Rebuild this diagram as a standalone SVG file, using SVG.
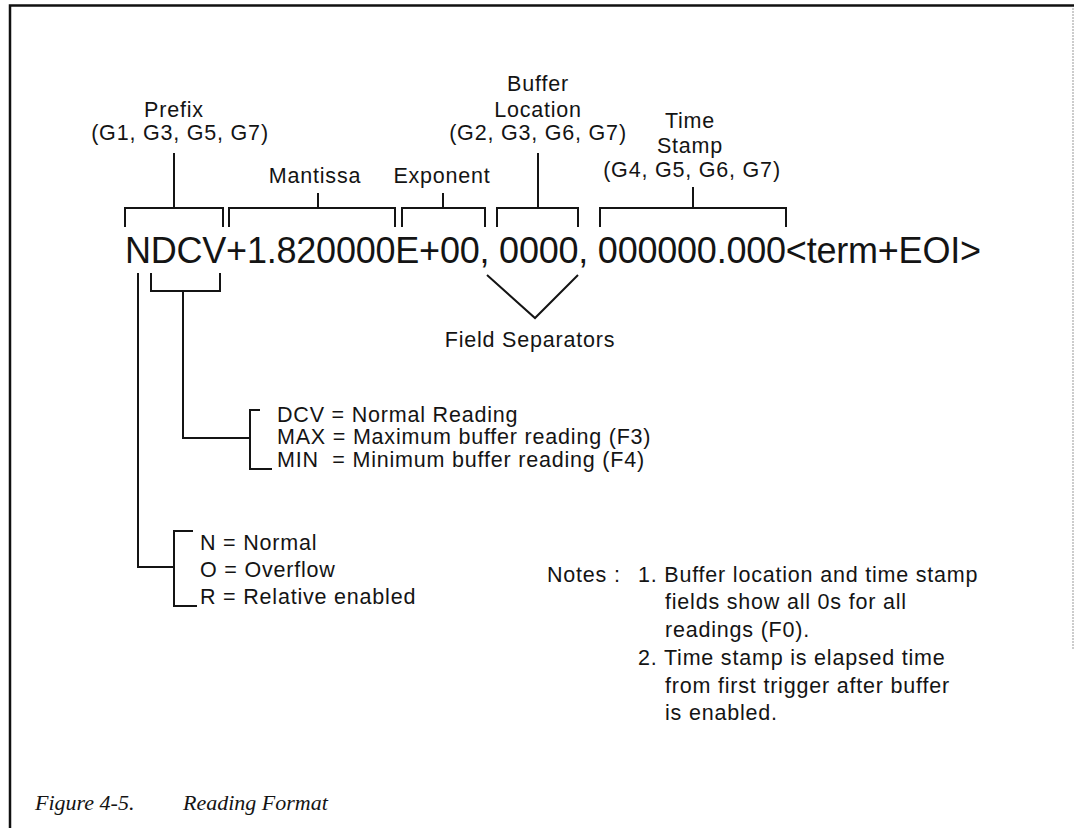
<svg xmlns="http://www.w3.org/2000/svg" width="1074" height="828" viewBox="0 0 1074 828">
<style>
.lbl{font-family:"Liberation Sans",Arial,Helvetica,sans-serif;font-size:21.5px;letter-spacing:0.8px;fill:#141414}
.mid{text-anchor:middle}
.main{font-family:"Liberation Sans",Arial,Helvetica,sans-serif;font-size:36px;fill:#141414}
.cap{font-family:"Liberation Serif","Times New Roman",serif;font-style:italic;font-size:22px;fill:#141414}
.ln{fill:none;stroke:#141414;stroke-width:2}
.frame{fill:none;stroke:#111;stroke-width:2.5}
</style>
<rect width="1074" height="828" fill="#fff"/>
<g id="frame">
<path class="frame" d="M10,828 V5.5 H1074"/>
<path d="M1073,8 V650" fill="none" stroke="#999" stroke-width="1" stroke-dasharray="2,1"/>
</g>
<g id="reading">
<text class="main" x="125" y="263" textLength="856" lengthAdjust="spacing">NDCV+1.820000E+00, 0000, 000000.000&lt;term+EOI&gt;</text>
</g>
<g id="prefix-label">
<text class="lbl mid" x="174" y="117">Prefix</text>
<text class="lbl mid" x="180" y="140">(G1, G3, G5, G7)</text>
</g>
<g id="mantissa-label"><text class="lbl mid" x="315" y="183">Mantissa</text></g>
<g id="exponent-label"><text class="lbl mid" x="442" y="183">Exponent</text></g>
<g id="buffer-label">
<text class="lbl mid" x="538" y="91">Buffer</text>
<text class="lbl mid" x="538" y="117">Location</text>
<text class="lbl mid" x="538" y="140">(G2, G3, G6, G7)</text>
</g>
<g id="time-label">
<text class="lbl mid" x="690" y="128">Time</text>
<text class="lbl mid" x="690" y="153">Stamp</text>
<text class="lbl mid" x="692" y="177">(G4, G5, G6, G7)</text>
</g>
<g id="separators-label"><text class="lbl mid" x="530" y="347">Field Separators</text></g>
<g id="dcv-list">
<text class="lbl" x="277" y="422">DCV = Normal Reading</text>
<text class="lbl" x="277" y="444">MAX = Maximum buffer reading (F3)</text>
<text class="lbl" x="277" y="467">MIN&#160; = Minimum buffer reading (F4)</text>
</g>
<g id="n-list">
<text class="lbl" x="200" y="550">N = Normal</text>
<text class="lbl" x="200" y="577">O = Overflow</text>
<text class="lbl" x="200" y="604">R = Relative enabled</text>
</g>
<g id="notes">
<text class="lbl" x="547" y="582">Notes :</text>
<text class="lbl" x="638" y="582">1. Buffer location and time stamp</text>
<text class="lbl" x="665" y="609">fields show all 0s for all</text>
<text class="lbl" x="665" y="637">readings (F0).</text>
<text class="lbl" x="638" y="665">2. Time stamp is elapsed time</text>
<text class="lbl" x="665" y="693">from first trigger after buffer</text>
<text class="lbl" x="665" y="720">is enabled.</text>
</g>
<g id="caption">
<text class="cap" x="35" y="810">Figure 4-5.</text>
<text class="cap" x="183" y="810">Reading Format</text>
</g>
<g id="connectors">
<path class="ln" d="M125,227 V208 H223 V227 M174,153 V208"/>
<path class="ln" d="M229,227 V208 H395 V227 M318,193 V208"/>
<path class="ln" d="M402,227 V208 H485 V227 M443,193 V208"/>
<path class="ln" d="M497,227 V208 H578 V227 M538,153 V208"/>
<path class="ln" d="M600,227 V208 H786 V227 M693,187 V208"/>
<path class="ln" d="M487,275 L535,318 L578,275"/>
<path class="ln" d="M151,273 V291 H220 V273 M183,291 V438 H250"/>
<path class="ln" d="M260,410 H250 V469 H272"/>
<path class="ln" d="M138,273 V567 H174"/>
<path class="ln" d="M193,531 H174 V606 H197"/>
</g>
</svg>
